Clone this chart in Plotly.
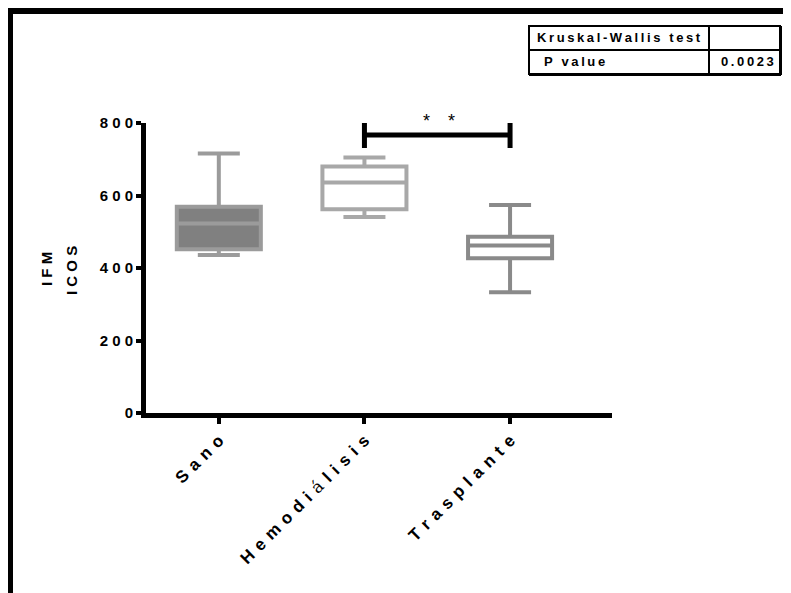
import plotly.graph_objects as go

# ---- data ----
categories = ["Sano", "Hemodiálisis", "Trasplante"]
lower_whisker = [436, 541, 333]
q1_values = [452, 562, 427]
median_values = [523, 636, 462]
q3_values = [569, 680, 486]
upper_whisker = [716, 705, 574]
line_colors = ["#9b9b9b", "#a8a8a8", "#8a8a8a"]
fill_colors = ["#808080", "#ffffff", "#ffffff"]

y_ticks = [0, 200, 400, 600, 800]
sig_pair = (1, 2)
sig_level = 767
sig_tick_low = 731
sig_tick_high = 800
sig_label = "*\u2003*"
test_name = "Kruskal-Wallis test"
p_label = "P value"
p_value = "0.0023"

# ---- layout geometry (page pixels; page body has an 8px margin) ----
PW, PH = 791, 593
OFF = 8
FW, FH = PW - OFF, PH - OFF
L, R, T, B = 146, 612, 123, 413
VISIBLE_RIGHT = PW - OFF  # content right of this is not shown


def px(x):
    return (x - L) / (R - L)


def py(y):
    return (B - y) / (B - T)


THIN = "\u2009"
SIXTH = "\u2006"


def spaced(s, sep=" "):
    return sep.join(list(s))


def xlabel(name):
    parts = []
    for ch in name:
        if ch == "á":
            parts.append('<span style="font-family:\'DejaVu Serif\';font-weight:normal">á</span>')
        else:
            parts.append(ch)
    return (SIXTH + THIN).join(parts)


fig = go.Figure()
for i, cat in enumerate(categories):
    fig.add_trace(go.Box(
        x=[i],
        q1=[q1_values[i]], median=[median_values[i]], q3=[q3_values[i]],
        lowerfence=[lower_whisker[i]], upperfence=[upper_whisker[i]],
        name=cat, boxpoints=False,
        line=dict(color=line_colors[i], width=4),
        fillcolor=fill_colors[i],
        width=0.577, whiskerwidth=0.5,
        hoverinfo="skip",
    ))

shapes = []
# significance bracket
shapes.append(dict(type="line", xref="x", yref="y", x0=sig_pair[0], x1=sig_pair[1],
                   y0=sig_level, y1=sig_level, line=dict(color="black", width=5)))
for xc in sig_pair:
    shapes.append(dict(type="line", xref="x", yref="y", x0=xc, x1=xc,
                       y0=sig_tick_low, y1=sig_tick_high, line=dict(color="black", width=5)))

# outer frame (top and left edges)
shapes.append(dict(type="rect", xref="paper", yref="paper", x0=px(OFF), x1=px(PW + 5),
                   y0=py(14), y1=py(8), fillcolor="black", line=dict(width=0), layer="above"))
shapes.append(dict(type="rect", xref="paper", yref="paper", x0=px(OFF), x1=px(13),
                   y0=py(PH + 5), y1=py(8), fillcolor="black", line=dict(width=0), layer="above"))

# table
tl, tt, tb, tm, tv = 529, 26, 74, 50, 709
tr = VISIBLE_RIGHT - 3
shapes.append(dict(type="rect", xref="paper", yref="paper", x0=px(tl), x1=px(tr),
                   y0=py(tb), y1=py(tt), line=dict(color="black", width=2)))
shapes.append(dict(type="line", xref="paper", yref="paper", x0=px(tl), x1=px(tr),
                   y0=py(tm), y1=py(tm), line=dict(color="black", width=2)))
shapes.append(dict(type="line", xref="paper", yref="paper", x0=px(tv), x1=px(tv),
                   y0=py(tb), y1=py(tt), line=dict(color="black", width=2)))
# heavier right / bottom edges
shapes.append(dict(type="line", xref="paper", yref="paper", x0=px(tr + 1), x1=px(tr + 1),
                   y0=py(tb + 1), y1=py(tt), line=dict(color="black", width=2)))
shapes.append(dict(type="line", xref="paper", yref="paper", x0=px(tl), x1=px(tr + 1),
                   y0=py(tb + 1), y1=py(tb + 1), line=dict(color="black", width=2)))

FONT = "Liberation Sans, Arial"
tfont = dict(family=FONT, size=13, color="black", weight="bold")
annotations = [
    dict(text=spaced(test_name, THIN), x=px((tl + tv) / 2), y=py((tt + tm) / 2),
         xref="paper", yref="paper", showarrow=False, font=tfont,
         xanchor="center", yanchor="middle"),
    dict(text=spaced(p_label, THIN), x=px(tl + 13), y=py((tm + tb) / 2),
         xref="paper", yref="paper", showarrow=False, font=tfont,
         xanchor="left", yanchor="middle"),
    dict(text=spaced(p_value, THIN), x=px(747), y=py((tm + tb) / 2),
         xref="paper", yref="paper", showarrow=False, font=tfont,
         xanchor="center", yanchor="middle"),
    dict(text=sig_label, x=(sig_pair[0] + sig_pair[1]) / 2, y=sig_tick_high, xref="x", yref="y",
         showarrow=False, yanchor="bottom", yshift=-10, xshift=2,
         font=dict(family=FONT, size=18, color="black")),
    dict(text=spaced("IFM"), x=px(46), y=py(269), xref="paper", yref="paper", textangle=-90,
         showarrow=False, xanchor="center", yanchor="middle",
         font=dict(family=FONT, size=15, color="black", weight="bold")),
    dict(text=spaced("ICOS"), x=px(71), y=py(271), xref="paper", yref="paper", textangle=-90,
         showarrow=False, xanchor="center", yanchor="middle",
         font=dict(family=FONT, size=15, color="black", weight="bold")),
]

fig.update_layout(
    width=FW, height=FH,
    margin=dict(l=L - OFF, r=PW - R, t=T - OFF, b=(OFF + FH) - B, pad=0),
    paper_bgcolor="white", plot_bgcolor="white",
    showlegend=False,
    shapes=shapes, annotations=annotations,
    xaxis=dict(
        range=[-0.5, 2.7], tickmode="array", tickvals=list(range(len(categories))),
        ticktext=[xlabel(c) for c in categories], tickangle=-45,
        ticks="outside", ticklen=6, tickwidth=4, tickcolor="black",
        showline=True, linecolor="black", linewidth=5, showgrid=False, zeroline=False,
        tickfont=dict(family=FONT, size=17, color="black", weight="bold"),
        fixedrange=True, automargin=False,
    ),
    yaxis=dict(
        range=[0, 800], tickmode="array", tickvals=y_ticks,
        ticktext=[spaced(str(v)) for v in y_ticks],
        ticks="outside", ticklen=5, tickwidth=4, tickcolor="black",
        showline=True, linecolor="black", linewidth=5, showgrid=False, zeroline=False,
        tickfont=dict(family=FONT, size=15, color="black", weight="bold"),
        fixedrange=True, automargin=False,
    ),
)

fig.write_html("out.html")
